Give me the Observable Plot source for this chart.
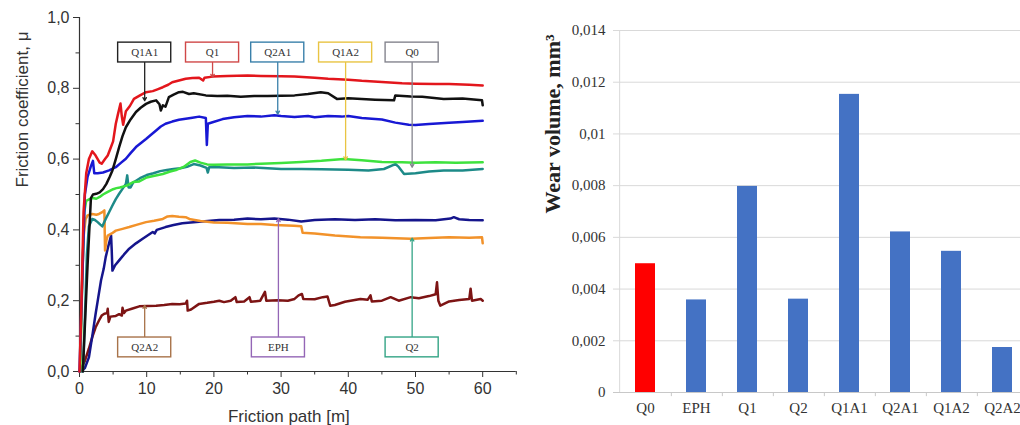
<!DOCTYPE html>
<html><head><meta charset="utf-8">
<script src="https://cdn.jsdelivr.net/npm/d3@7"></script>
<script src="https://cdn.jsdelivr.net/npm/@observablehq/plot@0.6"></script>
<style>
html,body{margin:0;padding:0;background:#fff;overflow:hidden;width:1020px;height:425px}
#left{position:absolute;left:0;top:0;width:520px}
#right{position:absolute;left:520px;top:0;width:520px}
svg{max-width:none !important}
</style></head><body>
<div id="left"></div><div id="right"></div>
<script>
// ---------- Left panel: friction coefficient vs friction path ----------
const q1 = [[0,0],[0.3,0.2],[0.6,0.45],[1.0,0.56],[1.4,0.6],[1.9,0.622],[2.4,0.61],[3.0,0.59],[3.3,0.587],[3.8,0.6],[4.2,0.61],[4.6,0.63],[5.0,0.65],[5.4,0.7],[5.7,0.725],[6.1,0.757],[6.3,0.72],[6.5,0.697],[6.9,0.735],[7.5,0.75],[8.1,0.77],[9.0,0.78],[9.9,0.789],[10.9,0.792],[11.6,0.797],[12.4,0.803],[13.2,0.81],[13.8,0.817],[14.8,0.822],[15.8,0.827],[16.8,0.829],[17.8,0.83],[18.4,0.822],[18.6,0.83],[19.8,0.833],[22,0.835],[25,0.836],[27,0.835],[30,0.834],[32,0.833],[35,0.83],[37,0.827],[40,0.824],[42,0.821],[45,0.818],[48,0.814],[50,0.813],[53,0.812],[55,0.812],[58,0.81],[60,0.808]];
const q1a1 = [[0.5,0],[1.2,0.3],[1.7,0.49],[2.0,0.5],[2.5,0.502],[3.0,0.506],[3.5,0.515],[4.0,0.53],[4.5,0.55],[4.9,0.568],[5.4,0.6],[5.9,0.634],[6.4,0.665],[6.9,0.69],[7.6,0.712],[8.4,0.733],[9.1,0.745],[9.9,0.756],[10.6,0.762],[11.4,0.766],[11.9,0.755],[12.1,0.737],[12.4,0.752],[12.8,0.748],[13.3,0.775],[14.0,0.782],[14.8,0.789],[15.4,0.79],[16.3,0.784],[17.0,0.786],[18.8,0.78],[20.5,0.778],[22,0.779],[24,0.776],[26,0.778],[28,0.778],[30,0.779],[32,0.78],[34,0.784],[35.9,0.789],[37,0.786],[38.3,0.77],[40,0.772],[42,0.77],[44,0.768],[46.8,0.766],[47.0,0.78],[49.3,0.777],[51,0.776],[54.2,0.77],[57,0.771],[59.9,0.766],[60,0.752]];
const q2a1 = [[0,0],[0.4,0.25],[0.8,0.5],[1.2,0.55],[1.7,0.58],[2.0,0.595],[2.2,0.56],[2.7,0.56],[3.5,0.562],[4.4,0.568],[5.4,0.577],[6.2,0.59],[6.9,0.601],[7.6,0.617],[8.4,0.634],[9.1,0.645],[9.9,0.657],[10.6,0.668],[11.4,0.681],[12.1,0.692],[12.8,0.7],[13.8,0.706],[14.8,0.711],[15.8,0.714],[16.8,0.717],[17.8,0.72],[18.8,0.716],[18.95,0.64],[19.1,0.7],[19.8,0.704],[21.3,0.713],[23,0.718],[25,0.722],[27,0.72],[29,0.724],[30,0.722],[32,0.719],[34,0.722],[35,0.718],[37,0.722],[39,0.72],[40,0.722],[42,0.716],[45,0.712],[47,0.703],[49,0.697],[50,0.696],[52,0.699],[55,0.703],[57,0.705],[60,0.708]];
const q1a2 = [[0.1,0],[0.4,0.25],[0.7,0.45],[1.0,0.482],[1.5,0.487],[2.0,0.49],[2.5,0.488],[3.0,0.493],[3.5,0.5],[4.0,0.505],[4.5,0.51],[5.0,0.515],[5.5,0.518],[6.0,0.52],[7.0,0.525],[8.0,0.535],[8.9,0.537],[10.0,0.548],[11.0,0.552],[12.4,0.558],[13.5,0.565],[14.5,0.57],[15.5,0.578],[16.5,0.592],[17.2,0.596],[18.0,0.59],[19,0.585],[20,0.584],[22,0.585],[25,0.585],[27,0.587],[30,0.589],[33,0.592],[36,0.595],[39.3,0.6],[42,0.597],[45,0.592],[48,0.591],[50,0.59],[53,0.591],[56,0.59],[60,0.591]];
const q0 = [[0.5,0],[0.8,0.15],[1.1,0.33],[1.4,0.41],[1.9,0.431],[2.3,0.428],[2.7,0.422],[3.1,0.415],[3.4,0.41],[3.9,0.431],[4.4,0.45],[4.9,0.469],[5.4,0.487],[5.9,0.502],[6.4,0.516],[6.9,0.53],[7.1,0.554],[7.3,0.52],[7.6,0.52],[8.0,0.534],[9.0,0.546],[10,0.555],[11,0.56],[12,0.566],[13,0.569],[14,0.572],[15,0.574],[16,0.578],[17,0.586],[18,0.582],[18.9,0.575],[19.1,0.562],[19.3,0.577],[20,0.578],[23,0.575],[26,0.576],[30,0.572],[33,0.572],[36,0.571],[40,0.57],[43,0.568],[45.3,0.572],[47,0.586],[47.5,0.578],[48.3,0.558],[50,0.56],[52,0.565],[54.2,0.568],[57,0.568],[60,0.572]];
const q2 = [[0.1,0],[0.3,0.2],[0.6,0.38],[0.9,0.43],[1.2,0.441],[1.9,0.445],[2.5,0.443],[2.9,0.445],[3.4,0.45],[3.7,0.455],[3.8,0.342],[4.0,0.37],[4.2,0.384],[4.8,0.39],[5.4,0.398],[6.4,0.403],[7.4,0.408],[8.6,0.415],[9.9,0.422],[11.1,0.426],[12.4,0.431],[13.1,0.438],[13.8,0.439],[14.8,0.437],[15.8,0.436],[16.5,0.43],[18,0.425],[20,0.421],[22,0.42],[25,0.417],[27,0.417],[29,0.414],[31.9,0.412],[33.0,0.41],[33.2,0.392],[35,0.39],[38,0.384],[41.8,0.379],[45,0.378],[49.3,0.375],[52,0.377],[55,0.379],[58,0.378],[59.9,0.379],[60,0.362]];
const eph = [[0.2,0],[0.8,0.01],[1.4,0.04],[1.9,0.1],[2.4,0.163],[2.8,0.21],[3.2,0.257],[3.6,0.29],[3.9,0.323],[4.3,0.355],[4.7,0.384],[4.8,0.34],[4.9,0.285],[5.3,0.3],[5.9,0.314],[6.6,0.33],[7.4,0.347],[8.4,0.362],[9.4,0.375],[10.9,0.394],[11.2,0.39],[11.5,0.4],[12.8,0.408],[14,0.414],[15.3,0.419],[17.8,0.423],[20.8,0.428],[23,0.429],[25,0.432],[27,0.43],[29,0.432],[31,0.429],[33,0.424],[35,0.428],[38,0.43],[41,0.428],[44,0.43],[47,0.427],[50,0.428],[53,0.427],[55.2,0.432],[55.7,0.436],[56.5,0.43],[58,0.428],[60,0.427]];
const q2a2 = [[0,0],[0.8,0.03],[1.4,0.065],[1.9,0.097],[2.4,0.125],[2.9,0.144],[3.3,0.158],[3.7,0.163],[4.1,0.165],[4.2,0.177],[4.35,0.14],[4.6,0.155],[5.4,0.157],[5.9,0.162],[6.3,0.158],[6.4,0.18],[6.6,0.165],[6.9,0.172],[7.9,0.178],[8.9,0.184],[10.1,0.185],[11.4,0.186],[12.6,0.188],[13.8,0.191],[14.9,0.19],[15.8,0.192],[16.0,0.2],[16.1,0.172],[16.6,0.175],[17.8,0.191],[19,0.194],[20.0,0.197],[20.8,0.2],[21.5,0.196],[22.5,0.2],[23.2,0.21],[23.4,0.196],[24.5,0.198],[25.3,0.21],[25.5,0.197],[26.9,0.2],[27.6,0.225],[27.8,0.2],[29.5,0.201],[31,0.2],[32,0.205],[32.6,0.215],[33.1,0.219],[33.3,0.205],[35,0.204],[36.2,0.21],[36.9,0.212],[37.3,0.186],[38,0.188],[39.5,0.197],[41.8,0.205],[42.9,0.203],[43.3,0.215],[43.5,0.198],[45,0.2],[46.3,0.21],[47.5,0.2],[49.3,0.21],[50.5,0.207],[52,0.213],[53.0,0.218],[53.2,0.252],[53.4,0.2],[53.7,0.186],[55,0.198],[56.5,0.202],[58.0,0.205],[58.2,0.234],[58.4,0.2],[59.7,0.205],[60,0.2]];

const seriesNames = ["Q2A2","EPH","Q2","Q0","Q1A2","Q2A1","Q1A1","Q1"];
const seriesData  = [q2a2, eph, q2, q0, q1a2, q2a1, q1a1, q1];
const seriesColors = ["#7d1414","#15158c","#f2922a","#1d8a88","#3ee23e","#1818d4","#111111","#e3161c"];

// annotation labels (text, x in m, box side, leader end value, box colour)
const labelNames  = ["Q1A1","Q1","Q2A1","Q1A2","Q0","Q2A2","EPH","Q2"];
const labelX      = [9.7, 19.8, 29.5, 39.6, 49.5, 9.7, 29.6, 49.5];
const labelSide   = ["top","top","top","top","top","bottom","bottom","bottom"];
const leaderEnd   = [0.765, 0.831, 0.727, 0.598, 0.577, 0.187, 0.432, 0.377];
const labelColors = ["#222222","#d04848","#3a80aa","#e9c443","#84848e","#a8734a","#9466b6","#34a486"];

// ---------- Right panel: wear volume ----------
const wearCategories = ["Q0","EPH","Q1","Q2","Q1A1","Q2A1","Q1A2","Q2A2"];
const wearValues = [0.00498, 0.00358, 0.00797, 0.00361, 0.01153, 0.00621, 0.00546, 0.00174];
const wearColors = ["#ff0000","#4472c4","#4472c4","#4472c4","#4472c4","#4472c4","#4472c4","#4472c4"];
const wearTicks = [0, 0.002, 0.004, 0.006, 0.008, 0.01, 0.012, 0.014];

// ---------- build left ----------
const fmt1 = d => d3.format(".1f")(d).replace(".", ",");
const lineRows = seriesNames.flatMap((s, i) => seriesData[i].map(([x, y]) => ({series: s, x, y, color: seriesColors[i]})));
const ann = labelNames.map((n, i) => ({name: n, x: labelX[i], side: labelSide[i], end: leaderEnd[i], color: labelColors[i]}));
const boxTop = d => d.side === "top" ? 0.929 : 0.096;
const boxBot = d => d.side === "top" ? 0.873 : 0.040;

const left = Plot.plot({
  width: 520, height: 425,
  marginLeft: 79, marginTop: 17, marginBottom: 54, marginRight: 4.2,
  style: {fontFamily: "'Liberation Sans', Arial, sans-serif", fontSize: "16px", color: "#333", background: "transparent"},
  x: {domain: [0, 65]},
  y: {domain: [0, 1]},
  color: {type: "identity"},
  marks: [
    Plot.axisY(d3.range(0, 1.01, 0.2), {tickSize: 6, tickPadding: 4, tickFormat: fmt1, label: null}),
    Plot.axisY(d3.range(0.1, 1, 0.2), {tickSize: 3.5, tickFormat: () => "", label: null}),
    Plot.axisX(d3.range(0, 61, 10), {tickSize: 6, tickPadding: 5, tickFormat: d => String(d), label: null}),
    Plot.axisX(d3.range(5, 66, 10), {tickSize: 3.5, tickFormat: () => "", label: null}),
    Plot.ruleX([0], {stroke: "#333", strokeWidth: 1.2}),
    Plot.ruleY([0], {stroke: "#333", strokeWidth: 1.2}),
    Plot.line(lineRows, {x: "x", y: "y", z: "series", stroke: "color", strokeWidth: 2.5, strokeLinejoin: "round"}),
    Plot.arrow(ann, {x: "x", y1: d => d.side === "top" ? 0.873 : 0.096, y2: "end", stroke: "color", strokeWidth: 1.3, headLength: 4, bend: 0}),
    Plot.rect(ann, {x1: d => d.x - 3.95, x2: d => d.x + 3.95, y1: boxBot, y2: boxTop, fill: "white", stroke: "color", strokeWidth: 1.4}),
    Plot.text(ann, {x: "x", y: d => (boxTop(d) + boxBot(d)) / 2, text: "name", fontFamily: "'Liberation Serif', 'Times New Roman', serif", fontSize: 11, fill: "#333"}),
    Plot.text(["Friction coefficient, μ"], {frameAnchor: "left", rotate: -90, dx: -57, dy: -7, fontSize: 17, fill: "#333"}),
    Plot.text(["Friction path [m]"], {frameAnchor: "bottom", dx: -9, dy: 45, fontSize: 17, fill: "#333", lineAnchor: "middle"})
  ]
});
document.getElementById("left").append(left);

// ---------- build right ----------
const fmtW = d => d === 0 ? "0" : String(+d.toFixed(3)).replace(".", ",");
const wearRows = wearCategories.map((c, i) => ({cat: c, value: wearValues[i], color: wearColors[i]}));
const rW = 520, rML = 97, rMR = 9.4;
const halfStep = (rW - rML - rMR) / wearCategories.length / 2;

const right = Plot.plot({
  width: rW, height: 425,
  marginLeft: rML, marginRight: rMR, marginTop: 30, marginBottom: 33,
  style: {fontFamily: "'Liberation Serif', 'Times New Roman', serif", fontSize: "15px", color: "#333", background: "transparent"},
  x: {domain: wearCategories, paddingInner: 0.61, paddingOuter: 0.305, label: null},
  y: {domain: [0, 0.014], label: null},
  color: {type: "identity"},
  marks: [
    Plot.ruleY(wearTicks.slice(1), {stroke: "#d9d9d9", insetLeft: -4}),
    Plot.ruleX([wearCategories[0]], {y1: 0, y2: 0.014, dx: -halfStep, stroke: "#d9d9d9"}),
    Plot.axisY(wearTicks, {tickSize: 0, tickPadding: 12, tickFormat: fmtW, label: null}),
    Plot.barY(wearRows, {x: "cat", y: "value", fill: "color"}),
    Plot.ruleY([0], {stroke: "#c8c8c8", insetLeft: -4}),
    Plot.ruleX(wearCategories, {y1: 0, y2: -0.00016, dx: halfStep, stroke: "#c8c8c8"}),
    Plot.axisX({tickSize: 0, tickPadding: 10, label: null}),
    Plot.text(["Wear volume, mm³"], {frameAnchor: "left", rotate: -90, dx: -65, dy: 2, fontSize: 22, fontWeight: "bold", fill: "#222"})
  ]
});
document.getElementById("right").append(right);
</script>
</body></html>
